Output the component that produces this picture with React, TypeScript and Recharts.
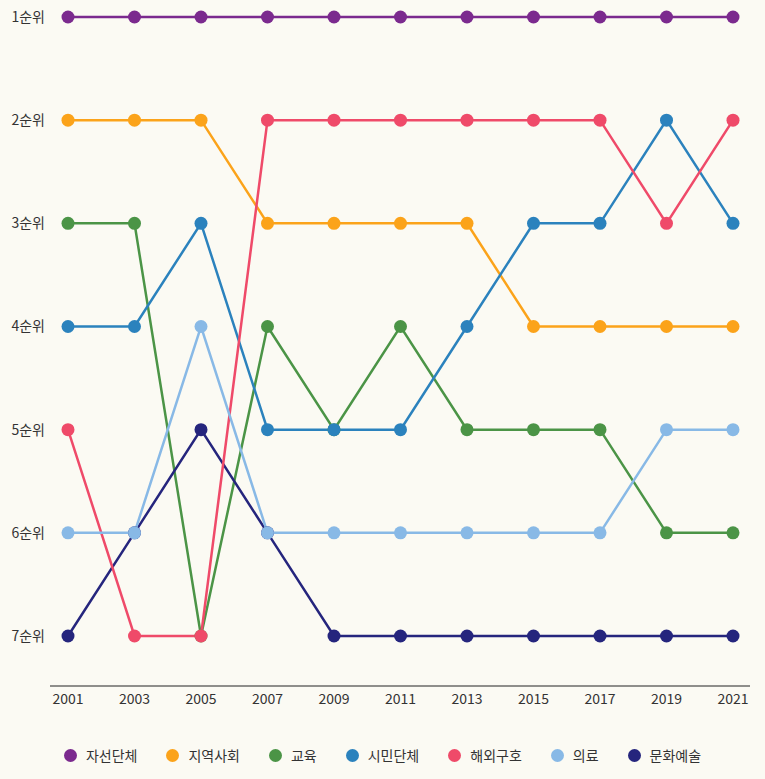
import { LineChart, Line, XAxis, YAxis } from "recharts";

const years = ["2001", "2003", "2005", "2007", "2009", "2011", "2013", "2015", "2017", "2019", "2021"];
const charity = [1, 1, 1, 1, 1, 1, 1, 1, 1, 1, 1];
const community = [2, 2, 2, 3, 3, 3, 3, 4, 4, 4, 4];
const education = [3, 3, 7, 4, 5, 4, 5, 5, 5, 6, 6];
const civic = [4, 4, 3, 5, 5, 5, 4, 3, 3, 2, 3];
const overseas = [5, 7, 7, 2, 2, 2, 2, 2, 2, 3, 2];
const medical = [6, 6, 4, 6, 6, 6, 6, 6, 6, 5, 5];
const culture = [7, 6, 5, 6, 7, 7, 7, 7, 7, 7, 7];
const rankTicks = [1, 2, 3, 4, 5, 6, 7];

const series = [
  { key: "charity", name: "자선단체", color: "#7b2a8e", values: charity },
  { key: "community", name: "지역사회", color: "#fba31a", values: community },
  { key: "education", name: "교육", color: "#4b9446", values: education },
  { key: "civic", name: "시민단체", color: "#2b82bd", values: civic },
  { key: "overseas", name: "해외구호", color: "#ef4a69", values: overseas },
  { key: "medical", name: "의료", color: "#88b9e6", values: medical },
  { key: "culture", name: "문화예술", color: "#25257d", values: culture },
];

// draw order so overlapping dots stack like the original
const drawOrder = ["charity", "community", "education", "civic", "culture", "overseas", "medical"];

const data = years.map((year, i) => {
  const row: any = { year };
  series.forEach((s) => (row[s.key] = s.values[i]));
  return row;
});

const font = "'Noto Sans CJK KR', 'Noto Sans', sans-serif";

export default function App() {
  return (
    <div
      style={{
        position: "absolute",
        left: 0,
        top: 0,
        width: 765,
        height: 779,
        background: "#fbfaf3",
        fontFamily: font,
      }}
    >
      <LineChart width={765} height={779} data={data} margin={{ top: 17, right: 15, left: 0, bottom: 63 }}>
        <XAxis
          dataKey="year"
          padding={{ left: 18, right: 17 }}
          tickLine={false}
          axisLine={{ stroke: "#222", strokeWidth: 1 }}
          tick={{ fontSize: 14, fill: "#333", fontFamily: font }}
          tickMargin={2}
          height={30}
          interval={0}
        />
        <YAxis
          type="number"
          domain={[1, 7]}
          ticks={rankTicks}
          reversed
          width={50}
          padding={{ top: 0, bottom: 50 }}
          axisLine={false}
          tickLine={false}
          tickSize={0}
          tickMargin={5}
          tick={{ fontSize: 14, fill: "#333", fontFamily: font }}
          tickFormatter={(v) => `${v}순위`}
        />
        {drawOrder.map((k) => {
          const s = series.find((x) => x.key === k)!;
          return (
            <Line
              key={s.key}
              dataKey={s.key}
              name={s.name}
              type="linear"
              stroke={s.color}
              strokeWidth={2.5}
              dot={{ r: 6.5, fill: s.color, stroke: "none" }}
              activeDot={false}
              isAnimationActive={false}
            />
          );
        })}
      </LineChart>
      <div
        style={{
          position: "absolute",
          top: 745,
          left: 0,
          width: 765,
          display: "flex",
          justifyContent: "center",
          gap: 29,
          fontSize: 14,
          color: "#333",
          lineHeight: "20px",
        }}
      >
        {series.map((s) => (
          <div key={s.key} style={{ display: "flex", alignItems: "center" }}>
            <span
              style={{
                display: "inline-block",
                width: 13,
                height: 13,
                borderRadius: "50%",
                background: s.color,
                marginRight: 9,
              }}
            />
            {s.name}
          </div>
        ))}
      </div>
    </div>
  );
}
